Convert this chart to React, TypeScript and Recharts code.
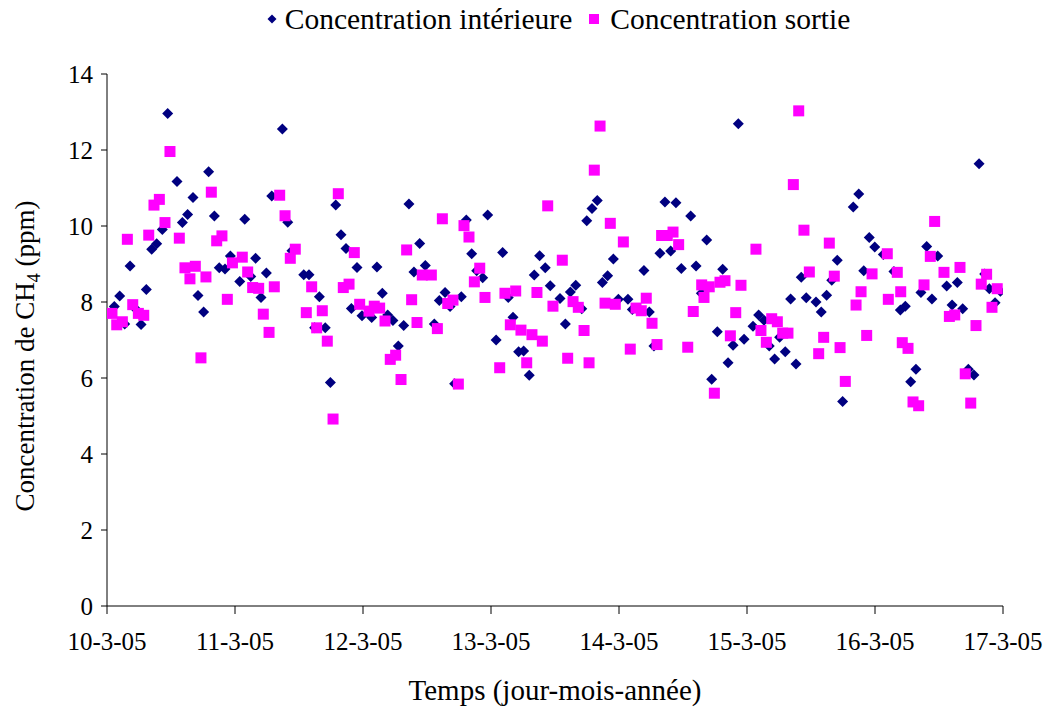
import React from 'react';
import { ScatterChart, Scatter, XAxis, YAxis, Legend, Label } from 'recharts';

// heures de mesure en jours depuis le 10-3-05, et CH4 en ppm
const interieurJour = [
    0.057, 0.099, 0.138, 0.18, 0.232, 0.266, 0.307, 0.349, 0.388, 0.432, 0.474, 0.547, 0.589, 0.63, 0.672, 0.711,
    0.755, 0.794, 0.839, 0.877, 0.922, 0.964, 1.037, 1.076, 1.123, 1.161, 1.203, 1.245, 1.287, 1.37, 1.412, 1.445,
    1.537, 1.578, 1.622, 1.659, 1.705, 1.745, 1.787, 1.828, 1.867, 1.909, 1.953, 1.992, 2.068, 2.109, 2.151, 2.193,
    2.234, 2.276, 2.318, 2.359, 2.398, 2.443, 2.487, 2.557, 2.596, 2.641, 2.68, 2.716, 2.768, 2.807, 2.849, 2.888,
    2.935, 2.974, 3.04, 3.091, 3.135, 3.172, 3.216, 3.255, 3.299, 3.338, 3.38, 3.424, 3.463, 3.539, 3.581, 3.62,
    3.662, 3.709, 3.748, 3.789, 3.83, 3.87, 3.911, 3.956, 3.995, 4.07, 4.104, 4.195, 4.237, 4.273, 4.32, 4.359,
    4.404, 4.445, 4.487, 4.56, 4.602, 4.643, 4.685, 4.724, 4.768, 4.81, 4.852, 4.891, 4.932, 4.977, 5.047, 5.091,
    5.133, 5.174, 5.216, 5.255, 5.299, 5.341, 5.383, 5.424, 5.463, 5.539, 5.58, 5.622, 5.662, 5.705, 5.747, 5.83,
    5.873, 5.912, 5.955, 5.998, 6.065, 6.148, 6.198, 6.237, 6.279, 6.32, 6.359, 6.404, 6.445, 6.49, 6.56, 6.602,
    6.643, 6.685, 6.729, 6.773, 6.813, 6.857, 6.893, 6.938, 6.979
];
const interieurCH4 = [
    7.88, 8.16, 7.42, 8.95, 7.79, 7.41, 8.33, 9.39, 9.53, 9.91, 12.96, 11.17, 10.09, 10.3, 10.75, 8.17,
    7.74, 11.43, 10.26, 8.9, 8.87, 9.21, 8.54, 10.18, 8.67, 9.15, 8.12, 8.76, 10.79, 12.55, 10.1, 9.35,
    8.72, 8.72, 7.32, 8.14, 7.32, 5.88, 10.55, 9.77, 9.41, 7.83, 8.91, 7.64, 7.59, 8.92, 8.23, 7.66,
    7.51, 6.84, 7.38, 10.58, 8.79, 9.54, 8.96, 7.42, 8.04, 8.25, 7.88, 5.85, 8.14, 10.16, 9.27, 8.82,
    8.64, 10.29, 7.0, 9.3, 8.12, 7.6, 6.69, 6.71, 6.07, 8.71, 9.22, 8.9, 8.43, 8.09, 7.42, 8.26,
    8.44, 7.82, 10.14, 10.46, 10.67, 8.51, 8.69, 9.13, 8.07, 8.07, 7.8, 8.83, 7.74, 6.84, 9.28, 10.63,
    9.34, 10.61, 8.88, 10.26, 8.95, 8.23, 9.63, 5.97, 7.22, 8.86, 6.4, 6.86, 12.69, 7.02, 7.36, 7.66,
    7.52, 6.84, 6.5, 7.07, 6.69, 8.08, 6.37, 8.65, 8.11, 8.0, 7.74, 8.18, 8.57, 9.1, 5.38, 10.5,
    10.84, 8.82, 9.7, 9.45, 9.25, 8.8, 7.79, 7.89, 5.9, 6.23, 8.25, 9.46, 8.08, 9.21, 8.42, 7.92,
    8.51, 7.82, 6.23, 6.08, 11.64, 8.74, 8.35, 7.98, 8.28
];

const sortieJour = [
    0.039, 0.076, 0.12, 0.159, 0.201, 0.245, 0.287, 0.326, 0.367, 0.409, 0.453, 0.492, 0.565, 0.609, 0.648, 0.69,
    0.734, 0.773, 0.815, 0.857, 0.898, 0.94, 0.98, 1.057, 1.099, 1.138, 1.185, 1.221, 1.266, 1.307, 1.349, 1.391,
    1.432, 1.471, 1.557, 1.599, 1.638, 1.682, 1.721, 1.766, 1.807, 1.846, 1.891, 1.932, 1.974, 2.047, 2.088, 2.13,
    2.172, 2.213, 2.255, 2.297, 2.341, 2.38, 2.422, 2.463, 2.534, 2.581, 2.62, 2.662, 2.703, 2.745, 2.789, 2.828,
    2.87, 2.912, 2.953, 3.068, 3.109, 3.151, 3.193, 3.234, 3.279, 3.32, 3.359, 3.401, 3.443, 3.484, 3.557, 3.599,
    3.641, 3.682, 3.727, 3.766, 3.807, 3.852, 3.891, 3.932, 3.971, 4.034, 4.088, 4.133, 4.174, 4.213, 4.258, 4.297,
    4.333, 4.377, 4.422, 4.466, 4.537, 4.58, 4.646, 4.664, 4.705, 4.745, 4.789, 4.828, 4.87, 4.912, 4.953, 5.07,
    5.109, 5.151, 5.193, 5.237, 5.279, 5.32, 5.362, 5.404, 5.445, 5.487, 5.56, 5.599, 5.643, 5.682, 5.727, 5.768,
    5.852, 5.891, 5.935, 5.977, 6.096, 6.104, 6.174, 6.201, 6.213, 6.258, 6.297, 6.341, 6.383, 6.432, 6.466, 6.539,
    6.581, 6.623, 6.664, 6.705, 6.748, 6.789, 6.83, 6.872, 6.914, 6.955
];
const sortieCH4 = [
    7.7, 7.4, 7.48, 9.65, 7.93, 7.7, 7.65, 9.76, 10.55, 10.7, 10.09, 11.96, 9.68, 8.9, 8.61, 8.94,
    6.53, 8.66, 10.89, 9.61, 9.74, 8.07, 9.03, 9.18, 8.79, 8.38, 8.36, 7.68, 7.2, 8.4, 10.81, 10.27,
    9.15, 9.39, 7.72, 8.4, 7.32, 7.77, 6.97, 4.92, 10.85, 8.38, 8.47, 9.3, 7.94, 7.76, 7.89, 7.84,
    7.5, 6.49, 6.6, 5.96, 9.37, 8.06, 7.46, 8.71, 8.71, 7.3, 10.19, 7.96, 8.05, 5.84, 10.01, 9.71,
    8.53, 8.89, 8.12, 6.27, 8.23, 7.4, 8.29, 7.26, 6.4, 7.14, 8.25, 6.97, 10.53, 7.89, 9.1, 6.52,
    8.01, 7.86, 7.25, 6.4, 11.47, 12.63, 7.97, 10.07, 7.94, 9.58, 6.76, 7.84, 7.77, 8.1, 7.44, 6.88,
    9.75, 9.75, 9.84, 9.51, 6.81, 7.75, 8.45, 8.12, 8.4, 5.6, 8.52, 8.56, 7.11, 7.72, 8.44, 9.39,
    7.25, 6.94, 7.56, 7.48, 7.18, 7.18, 11.09, 13.03, 9.89, 8.79, 6.64, 7.07, 9.55, 8.68, 6.8, 5.91,
    7.92, 8.27, 7.12, 8.74, 9.27, 8.07, 8.78, 8.27, 6.93, 6.78, 5.37, 5.27, 8.45, 9.2, 10.12, 8.78,
    7.62, 7.66, 8.91, 6.11, 5.34, 7.38, 8.47, 8.73, 7.86, 8.35
];

const dateLabels = ['10-3-05', '11-3-05', '12-3-05', '13-3-05', '14-3-05', '15-3-05', '16-3-05', '17-3-05'];
const xTicks = [0, 1, 2, 3, 4, 5, 6, 7];
const yTicks = [0, 2, 4, 6, 8, 10, 12, 14];

const NAVY = '#000080';
const MAGENTA = '#FF00FF';
const FONT = 'Liberation Serif, serif';

const interieurData = interieurJour.map((jour, i) => ({ jour, ch4: interieurCH4[i] }));
const sortieData = sortieJour.map((jour, i) => ({ jour, ch4: sortieCH4[i] }));

const Diamond = (props: any) => {
    const { cx, cy } = props;
    const r = 5.5;
    return <polygon points={`${cx},${cy - r} ${cx + r},${cy} ${cx},${cy + r} ${cx - r},${cy}`} fill={NAVY} />;
};

const Square = (props: any) => {
    const { cx, cy } = props;
    return <rect x={cx - 5.5} y={cy - 5.5} width={11} height={11} fill={MAGENTA} />;
};

const XTick = (props: any) => {
    const { x, y, payload } = props;
    return (
        <text x={x} y={y} dy="0.71em" textAnchor="middle" fontFamily={FONT} fontSize={25} fill="#000">
            {dateLabels[payload.value]}
        </text>
    );
};

const YTick = (props: any) => {
    const { x, y, payload } = props;
    return (
        <text x={x} y={y} dy="0.355em" textAnchor="end" fontFamily={FONT} fontSize={25} fill="#000">
            {payload.value}
        </text>
    );
};

const LegendBox = () => (
    <div style={{ height: 34, display: 'flex', justifyContent: 'center', alignItems: 'center', paddingLeft: 64, fontFamily: FONT, fontSize: 29.5, color: '#000' }}>
        <svg width={10} height={10} style={{ marginRight: 8 }}>
            <polygon points="5,0.5 9.5,5 5,9.5 0.5,5" fill={NAVY} />
        </svg>
        <span>Concentration intérieure</span>
        <svg width={10} height={10} style={{ marginLeft: 17, marginRight: 11 }}>
            <rect x={0} y={0} width={10} height={10} fill={MAGENTA} />
        </svg>
        <span>Concentration sortie</span>
    </div>
);

const YTitle = (props: any) => {
    const { viewBox } = props;
    const x = viewBox.x + 34;
    const y = viewBox.y + viewBox.height / 2 + 16;
    return (
        <text x={x} y={y} transform={`rotate(-90, ${x}, ${y})`} textAnchor="middle" fontFamily={FONT} fontSize={27} fill="#000">
            <tspan>Concentration de CH</tspan>
            <tspan dy={6} fontSize={18}>4</tspan>
            <tspan dy={-6}> (ppm)</tspan>
        </text>
    );
};

const XTitle = (props: any) => {
    const { viewBox } = props;
    return (
        <text x={viewBox.x + viewBox.width / 2} y={700} textAnchor="middle" fontFamily={FONT} fontSize={29} fill="#000">
            Temps (jour-mois-année)
        </text>
    );
};

export default function App() {
    return (
        <div style={{ position: 'absolute', left: 0, top: 0, background: '#fff' }}>
            <ScatterChart width={1053} height={719} margin={{ top: 40, right: 50, bottom: 0, left: 0 }}>
                <Legend verticalAlign="top" content={<LegendBox />} wrapperStyle={{ top: 2, left: 0, width: 1053 }} />
                <XAxis
                    dataKey="jour"
                    type="number"
                    domain={[0, 7]}
                    ticks={xTicks}
                    height={113}
                    tickSize={8}
                    tickMargin={18}
                    stroke="#000"
                    tick={<XTick />}
                    allowDataOverflow
                >
                    <Label content={<XTitle />} />
                </XAxis>
                <YAxis
                    dataKey="ch4"
                    type="number"
                    domain={[0, 14]}
                    ticks={yTicks}
                    width={107}
                    tickSize={6}
                    tickMargin={8}
                    stroke="#000"
                    tick={<YTick />}
                >
                    <Label content={<YTitle />} />
                </YAxis>
                <Scatter name="Concentration intérieure" data={interieurData} shape={<Diamond />} isAnimationActive={false} />
                <Scatter name="Concentration sortie" data={sortieData} shape={<Square />} isAnimationActive={false} />
            </ScatterChart>
        </div>
    );
}
